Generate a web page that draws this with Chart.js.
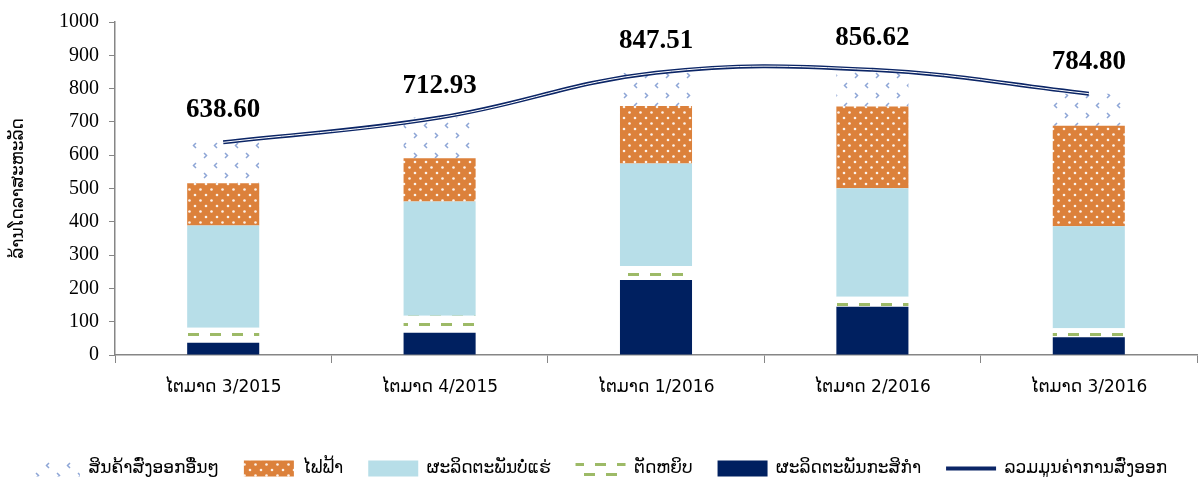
<!DOCTYPE html>
<html>
<head>
<meta charset="utf-8">
<script src="https://cdn.jsdelivr.net/npm/chart.js@4/dist/chart.umd.min.js"></script>
<style>
  html, body { margin: 0; padding: 0; background: #fff; }
  #wrap { width: 1202px; height: 477px; }
</style>
</head>
<body>
<div id="wrap"><canvas id="exportChart"></canvas></div>
<script>
// quarters
const quarters = ['ໄຕມາດ 3/2015', 'ໄຕມາດ 4/2015', 'ໄຕມາດ 1/2016', 'ໄຕມາດ 2/2016', 'ໄຕມາດ 3/2016'];

// stacked segments, million USD
const agriculture = [37, 67, 225, 145, 53];
const garments    = [45, 51, 42, 30, 27];
const minerals    = [307, 343, 308, 326, 307];
const electricity = [127, 130, 173, 245.5, 301.5];
const otherGoods  = [122.6, 121.9, 99.5, 110.1, 96.3];
const totalExport = [638.60, 712.93, 847.51, 856.62, 784.80];

const yTicks = [0, 100, 200, 300, 400, 500, 600, 700, 800, 900, 1000];

const LAO = "'DejaVu Sans', 'Noto Sans', sans-serif";
const SERIF = "'Liberation Serif', 'DejaVu Serif', serif";

function makePattern(w, h, draw) {
    const c = document.createElement('canvas');
    c.width = w; c.height = h;
    const g = c.getContext('2d');
    draw(g);
    return g.createPattern(c, 'repeat');
}

// white with small blue chevrons
const othersFill = makePattern(21, 20, g => {
    g.fillStyle = '#fff';
    g.fillRect(0, 0, 21, 20);
    g.strokeStyle = '#8ea6d6';
    g.lineWidth = 1.5;
    g.beginPath();
    g.moveTo(7, 3); g.lineTo(4.5, 5.5); g.lineTo(7, 8);
    g.moveTo(15, 13); g.lineTo(17.5, 15.5); g.lineTo(15, 18);
    g.stroke();
});

// orange with white dots
const electricFill = makePattern(11, 11, g => {
    g.fillStyle = '#dc813b';
    g.fillRect(0, 0, 11, 11);
    g.fillStyle = 'rgba(255,255,255,0.9)';
    g.beginPath(); g.arc(2.5, 2.5, 1.3, 0, Math.PI * 2); g.fill();
    g.beginPath(); g.arc(8, 8, 1.3, 0, Math.PI * 2); g.fill();
});

// white with green dashes
const garmentFill = makePattern(22, 20, g => {
    g.fillStyle = '#fff';
    g.fillRect(0, 0, 22, 20);
    g.fillStyle = '#9dba67';
    g.fillRect(1, 3, 11, 3);
    g.fillRect(12, 13, 10, 3);
    g.fillRect(0, 13, 1, 3);
});

const rank = [4, 3, 2, 1, 0, 5];

const valueLabels = {
    id: 'valueLabels',
    afterDatasetsDraw(chart) {
        const ctx = chart.ctx;
        const meta = chart.getDatasetMeta(5);
        ctx.save();
        ctx.font = 'bold 27px ' + SERIF;
        ctx.fillStyle = '#000';
        ctx.textAlign = 'center';
        ctx.textBaseline = 'middle';
        meta.data.forEach((pt, i) => {
            ctx.fillText(totalExport[i].toFixed(2), pt.x, pt.y - 32);
        });
        ctx.restore();
    }
};

// push the legend row into place
const legendShift = {
    id: 'legendShift',
    afterLayout(chart) {
        const lg = chart.legend;
        const shift = 461 - (lg.top + lg.bottom) / 2;
        lg.top += shift;
        lg.bottom += shift;
    }
};

new Chart(document.getElementById('exportChart'), {
    type: 'bar',
    data: {
        labels: quarters,
        datasets: [
            { label: 'ຜະລິດຕະພັນກະສິກຳ', data: agriculture, backgroundColor: '#002060', stack: 'bars', pointStyle: 'rect' },
            { label: 'ຕັດຫຍິບ', data: garments, backgroundColor: garmentFill, stack: 'bars', pointStyle: 'rect' },
            { label: 'ຜະລິດຕະພັນບໍ່ແຮ່', data: minerals, backgroundColor: '#b7dee8', stack: 'bars', pointStyle: 'rect' },
            { label: 'ໄຟຟ້າ', data: electricity, backgroundColor: electricFill, stack: 'bars', pointStyle: 'rect' },
            { label: 'ສິນຄ້າສົ່ງອອກອື່ນໆ', data: otherGoods, backgroundColor: othersFill, stack: 'bars', pointStyle: 'rect' },
            { type: 'line', label: 'ລວມມູນຄ່າການສົ່ງອອກ', data: totalExport, borderColor: '#0b2566', backgroundColor: '#0b2566',
              borderWidth: 4, tension: 0.4, pointRadius: 0, stack: 'line', pointStyle: 'line', order: -1 },
            { type: 'line', label: 'inner', data: totalExport, borderColor: '#ffffff', borderWidth: 1,
              tension: 0.4, pointRadius: 0, stack: 'line2', order: -2 }
        ]
    },
    options: {
        responsive: true,
        maintainAspectRatio: false,
        animation: false,
        layout: { padding: { top: 12, right: 5, left: 0, bottom: 0 } },
        datasets: { bar: { barPercentage: 1, categoryPercentage: 0.333 } },
        scales: {
            x: {
                stacked: true,
                grid: { display: true, drawOnChartArea: false, tickLength: 8, color: '#868686' },
                border: { color: '#868686', width: 1.5 },
                ticks: { color: '#000', padding: 14, font: { family: LAO, size: 17 } },
                afterFit: s => { s.height = 70; }
            },
            y: {
                stacked: true,
                min: 0, max: 1000,
                afterBuildTicks: s => { s.ticks = yTicks.map(v => ({ value: v })); },
                grid: { display: true, drawOnChartArea: false, tickLength: 6, color: '#868686' },
                border: { color: '#868686', width: 1.5 },
                ticks: { color: '#000', padding: 10, font: { family: SERIF, size: 20 }, callback: v => String(v) },
                title: { display: true, text: 'ລ້ານໂດລາສະຫະລັດ', color: '#000', font: { family: LAO, size: 17 }, padding: { top: 8, bottom: 4 } },
                afterFit: s => { s.width = 115; }
            }
        },
        plugins: {
            legend: {
                position: 'bottom',
                labels: {
                    color: '#000',
                    font: { family: LAO, size: 17 },
                    usePointStyle: true,
                    pointStyleWidth: 50,
                    boxHeight: 16,
                    padding: 25,
                    filter: item => item.datasetIndex < 6,
                    sort: (a, b) => rank[a.datasetIndex] - rank[b.datasetIndex]
                }
            },
            tooltip: { enabled: false }
        }
    },
    plugins: [valueLabels, legendShift]
});
</script>
</body>
</html>
